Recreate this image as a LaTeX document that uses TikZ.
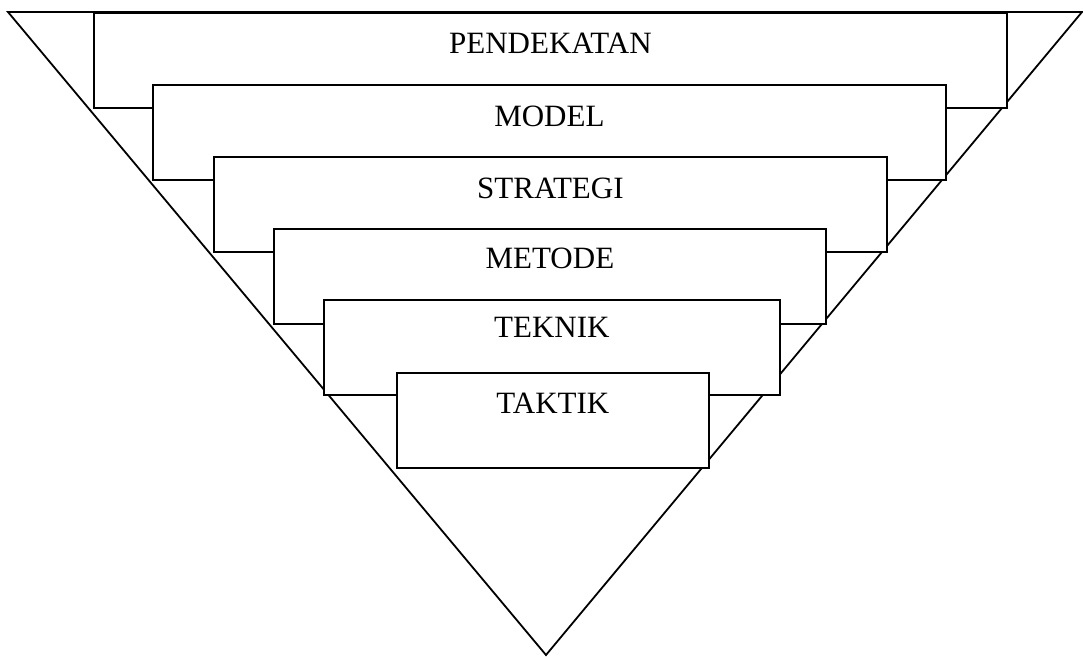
\documentclass[tikz,border=0pt]{standalone}
\usepackage{fontspec}
\setmainfont{Liberation Serif}
\begin{document}
\begin{tikzpicture}[x=1pt,y=-1pt,
  layer/.style={draw, fill=white, line width=1.8pt, rectangle, inner sep=0pt,
    minimum height=95pt, anchor=north west},
  lbl/.style={font=\fontsize{31}{36}\selectfont, anchor=base, inner sep=0pt}]
  \useasboundingbox (0,0) rectangle (1083,656);
  % inverted triangle behind the stacked layers
  \coordinate (tl) at (8,12);
  \coordinate (tr) at (1082,12);
  \coordinate (apex) at (546,655);
  \draw[line width=1.8pt, line join=miter] (tl) -- (tr) -- (apex) -- cycle;
  % stacked layers, each drawn over the previous one
  \node[layer, minimum width=913pt] (r1) at (93,12) {};
  \node[layer, minimum width=793pt] (r2) at (152,84) {};
  \node[layer, minimum width=673pt] (r3) at (213,156) {};
  \node[layer, minimum width=552pt] (r4) at (273,228) {};
  \node[layer, minimum width=456pt] (r5) at (323,299) {};
  \node[layer, minimum width=312pt] (r6) at (396,372) {};
  % layer names
  \node[lbl] (t1) at ([yshift=-41pt]r1.north) {PENDEKATAN};
  \node[lbl] (t2) at ([yshift=-42pt]r2.north) {MODEL};
  \node[lbl] (t3) at ([yshift=-42pt]r3.north) {STRATEGI};
  \node[lbl] (t4) at ([yshift=-40pt]r4.north) {METODE};
  \node[lbl] (t5) at ([yshift=-38pt]r5.north) {TEKNIK};
  \node[lbl] (t6) at ([yshift=-41pt]r6.north) {TAKTIK};
\end{tikzpicture}
\end{document}
